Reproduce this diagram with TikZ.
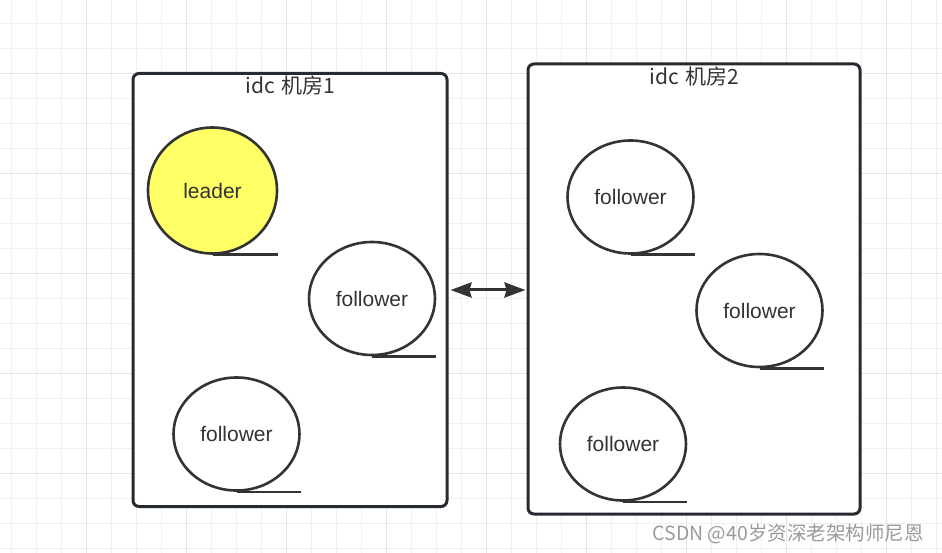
\documentclass[tikz,border=0pt]{standalone}
\usepackage{fontspec}
\setmainfont{Liberation Sans}
\newfontfamily\cjk{Noto Sans CJK SC}
\usetikzlibrary{shapes.geometric,arrows.meta}
\definecolor{gridminor}{HTML}{F0F0F0}
\definecolor{gridmajor}{HTML}{E6E6E6}
\definecolor{boxline}{HTML}{262B31}
\definecolor{circline}{HTML}{333333}
\definecolor{leaderfill}{HTML}{FFFF66}
\definecolor{wmark}{HTML}{9A9A9A}
\tikzset{
  idcbox/.style={draw=boxline, line width=3pt, rounded corners=6pt, fill=white, inner sep=0pt},
  idctitle/.style={font=\cjk\fontsize{21}{25}\selectfont, text=circline, inner sep=0pt},
  tapenode/.style={ellipse, draw=circline, line width=2.6pt, inner sep=0pt,
    minimum width=126pt, minimum height=113pt, font=\fontsize{21}{25}\selectfont, text=circline},
  tapetail/.style={draw=circline, line width=2.6pt},
  link/.style={draw=circline, line width=3pt, {Stealth[length=21pt,width=15pt,inset=2pt]}-{Stealth[length=21pt,width=15pt,inset=2pt]}}
}
\begin{document}
\begin{tikzpicture}[x=1pt,y=-1pt]
\useasboundingbox (0,0) rectangle (942,553);
\fill[white] (0,0) rectangle (942,553);
% grid
\foreach \i in {0,...,37} {\draw[gridminor, line width=1pt] ({11.7+25*\i},0) -- ({11.7+25*\i},553);}
\foreach \j in {0,...,21} {\draw[gridminor, line width=1pt] (0,{23.3+25*\j}) -- (942,{23.3+25*\j});}
\foreach \i in {0,...,8} {\draw[gridmajor, line width=1pt] ({86.7+100*\i},0) -- ({86.7+100*\i},553);}
\foreach \j in {0,...,4} {\draw[gridmajor, line width=1pt] (0,{73.3+100*\j}) -- (942,{73.3+100*\j});}
% boxes
\node[idcbox, minimum width=314pt, minimum height=433pt] (box1) at (290,290) {};
\node[idcbox, minimum width=332pt, minimum height=450pt] (box2) at (694,289) {};
\node[idctitle] (t1) at (290,86) {idc\hspace{0.3em}机房1};
\node[idctitle] (t2) at (694,77) {idc\hspace{0.3em}机房2};
% nodes
\node[tapenode, fill=leaderfill, minimum width=129pt, minimum height=126pt] (leader) at (212.5,190.5) {leader};
\node[tapenode] (f1) at (372,298.5) {follower};
\node[tapenode] (f2) at (236.5,434) {follower};
\node[tapenode] (f3) at (630.5,197) {follower};
\node[tapenode] (f4) at (759.5,310.5) {follower};
\node[tapenode] (f5) at (623,444) {follower};
\foreach \n in {leader,f1,f2,f3,f4,f5} {\draw[tapetail] (\n.south) -- (\n.south -| \n.east);}
% link
\draw[link] ([xshift=2pt]box1.east) -- ([xshift=-1pt]box1.east -| box2.west);
% watermark
\node[font=\cjk\fontsize{19.5}{23}\selectfont, text=wmark, inner sep=0pt] (wm) at (788,534) {CSDN @40岁资深老架构师尼恩};
\end{tikzpicture}
\end{document}
